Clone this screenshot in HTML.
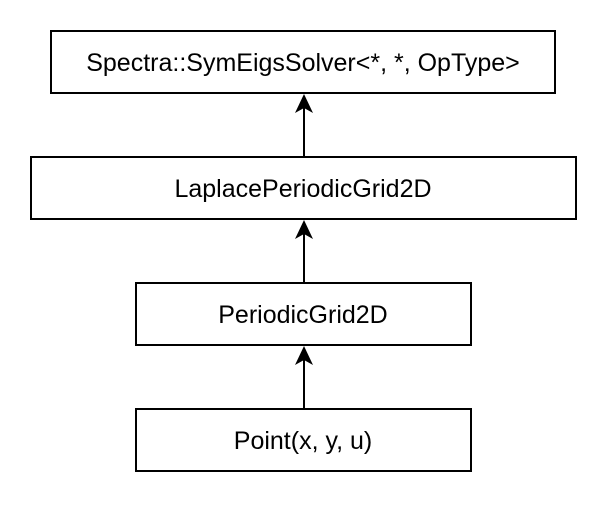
<!DOCTYPE html>
<html><head><style>body{margin:0;background:#fff}</style></head><body>
<svg width="611" height="509" xmlns="http://www.w3.org/2000/svg" font-family="Liberation Sans, Arial, sans-serif" font-size="25">
<rect width="611" height="509" fill="#fff"/>
<g fill="#fff" stroke="#000" stroke-width="2">
<rect x="51" y="31" width="504" height="62"/>
<rect x="31" y="157" width="545" height="62"/>
<rect x="136" y="283" width="335" height="62"/>
<rect x="136" y="409" width="335" height="62"/>
</g>
<g stroke="#000" stroke-width="2">
<line x1="304" y1="157" x2="304" y2="105"/>
<line x1="304" y1="283" x2="304" y2="231"/>
<line x1="304" y1="409" x2="304" y2="357"/>
</g>
<g fill="#000">
<path d="M304 94 L313 113 L304 108 L295 113 Z"/>
<path d="M304 220 L313 239 L304 234 L295 239 Z"/>
<path d="M304 346 L313 365 L304 360 L295 365 Z"/>
</g>
<g text-anchor="middle" fill="#000">
<text x="303" y="71">Spectra::SymEigsSolver&lt;*, *, OpType&gt;</text>
<text x="303" y="197">LaplacePeriodicGrid2D</text>
<text x="303" y="323">PeriodicGrid2D</text>
<text x="303" y="449">Point(x, y, u)</text>
</g>
</svg>
</body></html>
